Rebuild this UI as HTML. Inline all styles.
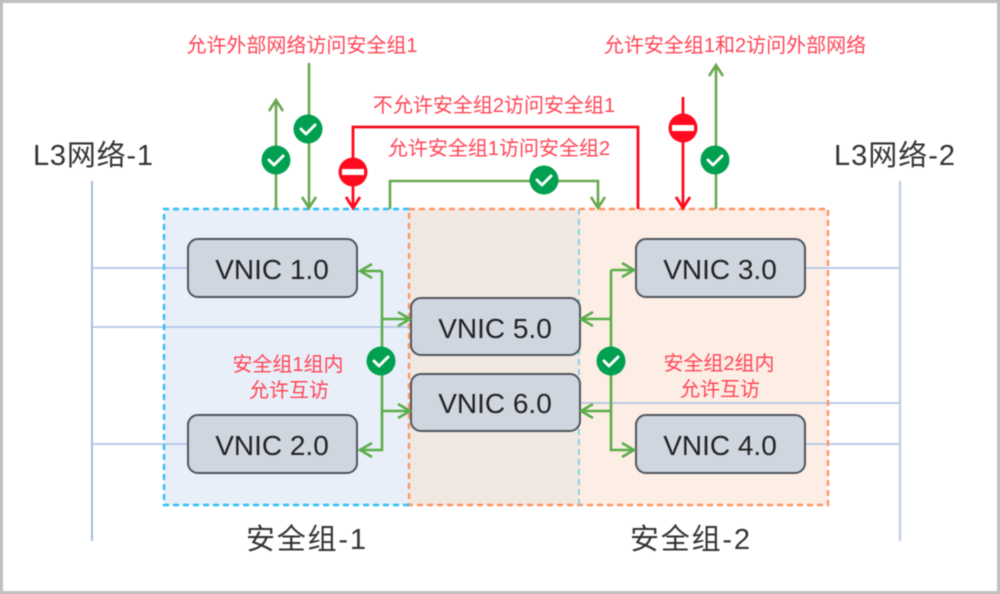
<!DOCTYPE html>
<html><head><meta charset="utf-8">
<style>
html,body{margin:0;padding:0;background:#c0c0c0;width:1000px;height:594px;overflow:hidden}
svg{display:block;filter:blur(0.4px)}
text{font-family:"Liberation Sans","Noto Sans CJK SC",sans-serif}
.r{fill:#ff4557;font-size:20px;text-anchor:middle}
.k{fill:#333;font-size:29px;text-anchor:start}
.v{fill:#222;font-size:28px;text-anchor:middle}
.n{fill:#cfd6e0;stroke:#50555c;stroke-width:2}
.g{fill:none;stroke:#6aa84f;stroke-width:2.6}
.gi{fill:none;stroke:#5aad48;stroke-width:2.6}
.rd{fill:none;stroke:#ff0a1e;stroke-width:2.8}
.l{stroke:#a9bde4;stroke-width:1.6;fill:none}
.c{fill:#00a050}
.t{fill:none;stroke:#fff;stroke-width:3;stroke-linecap:round;stroke-linejoin:round}
</style></head><body>
<svg width="1000" height="594" viewBox="0 0 1000 594" xmlns="http://www.w3.org/2000/svg">
<rect x="0" y="0" width="1000" height="594" fill="#c0c0c0"/>
<rect x="3" y="3" width="994" height="588" fill="#fff"/>

<!-- group fills -->
<rect x="164" y="209" width="245" height="296" fill="#e9eff8"/>
<rect x="409" y="209" width="170" height="296" fill="#f2e8e2"/>
<rect x="579" y="209" width="249" height="296" fill="#fdeee5"/>

<!-- network lines -->
<path d="M92 181V541" stroke="#9db4e0" stroke-width="1.8" fill="none"/>
<path d="M900 181V541" stroke="#c0cde4" stroke-width="2.2" fill="none"/>
<path class="l" d="M92 268H188M92 327H411M92 444H188M806 268H900M581 403H900M806 444H900"/>

<!-- group borders -->
<path d="M409 209H828V505H409Z" fill="none" stroke="#ff9565" stroke-width="2.4" stroke-dasharray="6 4"/>
<path d="M579 209V505" fill="none" stroke="#8dd0e2" stroke-width="2" stroke-dasharray="6 4"/>
<path d="M409 209H164V505H409" fill="none" stroke="#2ec0f5" stroke-width="2.4" stroke-dasharray="6 4"/>

<!-- VNIC nodes -->
<rect class="n" x="188" y="239" width="169" height="58" rx="10"/>
<rect class="n" x="188" y="415" width="169" height="58" rx="10"/>
<rect class="n" x="411" y="298" width="169" height="57" rx="10"/>
<rect class="n" x="411" y="374" width="169" height="57" rx="10"/>
<rect class="n" x="636" y="239" width="169" height="58" rx="10"/>
<rect class="n" x="636" y="415" width="169" height="58" rx="10"/>
<text class="v" x="272" y="279">VNIC 1.0</text>
<text class="v" x="272" y="455">VNIC 2.0</text>
<text class="v" x="495" y="338">VNIC 5.0</text>
<text class="v" x="495" y="413">VNIC 6.0</text>
<text class="v" x="720" y="279">VNIC 3.0</text>
<text class="v" x="720" y="455">VNIC 4.0</text>

<!-- inner green connectors -->
<path class="gi" d="M382 271V450H361M382 271H361M382 319H409M382 411H409"/>
<path class="gi" d="M372 264L360 271L372 278M372 443L360 450L372 457M398 312L410 319L398 326M398 404L410 411L398 418"/>
<path class="gi" d="M611 270V450H632M611 270H632M583 319H611M583 411H611"/>
<path class="gi" d="M622 263L634 270L622 277M622 443L634 450L622 457M593 312L581 319L593 326M593 404L581 411L593 418"/>

<!-- top green connectors -->
<path class="g" d="M276 209V101M269 111L276 100L283 111"/>
<path class="g" d="M309 63V206M302 197L309 208L316 197"/>
<path class="g" d="M390 209V181H598V206M591 197L598 208L605 197"/>
<path class="g" d="M716 209V66M709 76L716 65L723 76"/>

<!-- top red connectors -->
<path class="rd" d="M353 206V127H638V209M346 197L353 208L360 197"/>
<path class="rd" d="M683 97V206M676 197L683 208L690 197"/>

<!-- check badges -->
<g id="checks">
<circle class="c" cx="276" cy="160" r="14.5"/><path class="t" d="M269 160L274 165L283 156"/>
<circle class="c" cx="308" cy="129" r="14.5"/><path class="t" d="M301 129L306 134L315 125"/>
<circle class="c" cx="544" cy="180" r="14.5"/><path class="t" d="M537 180L542 185L551 176"/>
<circle class="c" cx="715" cy="160" r="14.5"/><path class="t" d="M708 160L713 165L722 156"/>
<circle class="c" cx="381" cy="361" r="14.5"/><path class="t" d="M374 361L379 366L388 357"/>
<circle class="c" cx="611" cy="361" r="14.5"/><path class="t" d="M604 361L609 366L618 357"/>
</g>

<!-- no-entry badges -->
<circle cx="353" cy="172" r="14.5" fill="#ff0a1e"/><rect x="342" y="169" width="22" height="6" fill="#fff"/>
<circle cx="683" cy="128" r="14.5" fill="#ff0a1e"/><rect x="672" y="125" width="22" height="6" fill="#fff"/>

<!-- labels -->
<text class="r" x="302" y="52">允许外部网络访问安全组1</text>
<text class="r" x="735" y="52">允许安全组1和2访问外部网络</text>
<text class="r" x="494" y="112">不允许安全组2访问安全组1</text>
<text class="r" x="499" y="155">允许安全组1访问安全组2</text>
<text class="r" x="288" y="371">安全组1组内</text>
<text class="r" x="289" y="397">允许互访</text>
<text class="r" x="719" y="370">安全组2组内</text>
<text class="r" x="720" y="396">允许互访</text>

<text class="k" x="33" y="165" textLength="120" lengthAdjust="spacing">L3网络-1</text>
<text class="k" x="834" y="165" textLength="121" lengthAdjust="spacing">L3网络-2</text>
<text class="k" x="246" y="549" textLength="120" lengthAdjust="spacing">安全组-1</text>
<text class="k" x="630" y="549" textLength="120" lengthAdjust="spacing">安全组-2</text>
</svg>
</body></html>
